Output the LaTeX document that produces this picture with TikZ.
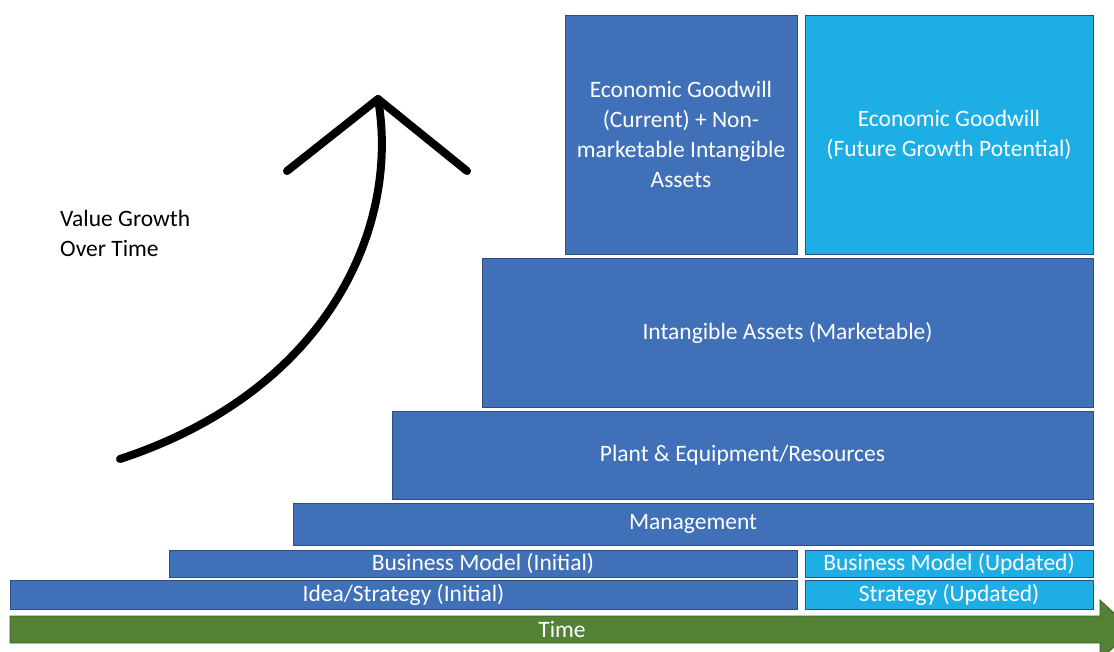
\documentclass[tikz,border=0pt]{standalone}
\usepackage{fontspec}
\setmainfont{Carlito}
\usepackage{tikz}
\usetikzlibrary{positioning}

\definecolor{blkblue}{HTML}{4070B8}
\definecolor{blklight}{HTML}{1CAEE4}
\definecolor{blkline}{HTML}{2F4E80}
\definecolor{timegreen}{HTML}{538135}
\definecolor{timeline}{HTML}{3B5E27}

\begin{document}
\begin{tikzpicture}[x=1pt,y=-1pt,node distance=8pt,
        blk/.style={draw=blkline, line width=0.8pt, fill=blkblue, text=white,
                    inner sep=0pt, outer sep=0pt, anchor=north west, align=center},
        lite/.style={blk, fill=blklight},
        growth/.style={line width=8pt, line cap=round, line join=round}]
        \useasboundingbox (0,0) rectangle (1114,651);
        \fontsize{23.5}{30}\selectfont

        \node[blk]  (idea)    at (10,580)            [minimum width=787, minimum height=29]  {Idea/Strategy (Initial)};
        \node[lite] (stratup) [right=of idea]        [minimum width=288, minimum height=29]  {Strategy (Updated)};
        \node[blk]  (bmi)     at (169,550)           [minimum width=628, minimum height=27]  {Business Model (Initial)};
        \node[lite] (bmup)    [right=of bmi]         [minimum width=288, minimum height=27]  {Business Model (Updated)};
        \node[blk]  (mgmt)    at (293,503)           [minimum width=800, minimum height=42]  {Management};
        \node[blk]  (plant)   at (392,411)           [minimum width=701, minimum height=88]  {Plant \& Equipment/Resources};
        \node[blk]  (intang)  at (482,258)           [minimum width=611, minimum height=149] {Intangible Assets (Marketable)};
        \node[blk]  (gwcur)   at (565,15)            [minimum width=232, minimum height=239]
                {Economic Goodwill\\(Current) + Non-\\marketable Intangible\\Assets};
        \node[lite] (gwfut)   [right=of gwcur]       [minimum width=288, minimum height=239]
                {Economic Goodwill\\(Future Growth Potential)};

        \filldraw[fill=timegreen, draw=timeline, line width=0.8pt]
        (10,616) -- (1100,616) -- (1100,600) -- (1132,630) -- (1100,660) -- (1100,643) -- (10,643) -- cycle;
        \node[text=white] (time) at (562,629) {Time};

        \node[anchor=west, align=left, inner sep=0pt] (label) at (60,233) {Value Growth\\Over Time};

        \coordinate (start) at (120,459);
        \coordinate (tip)   at (378,99);
        \coordinate (wingl) at (287,171);
        \coordinate (wingr) at (467,171);
        \draw[growth] (start) .. controls (330,390) and (400,225) .. (tip);
        \draw[growth] (wingl) -- (tip) -- (wingr);

    \end{tikzpicture}
\end{document}
